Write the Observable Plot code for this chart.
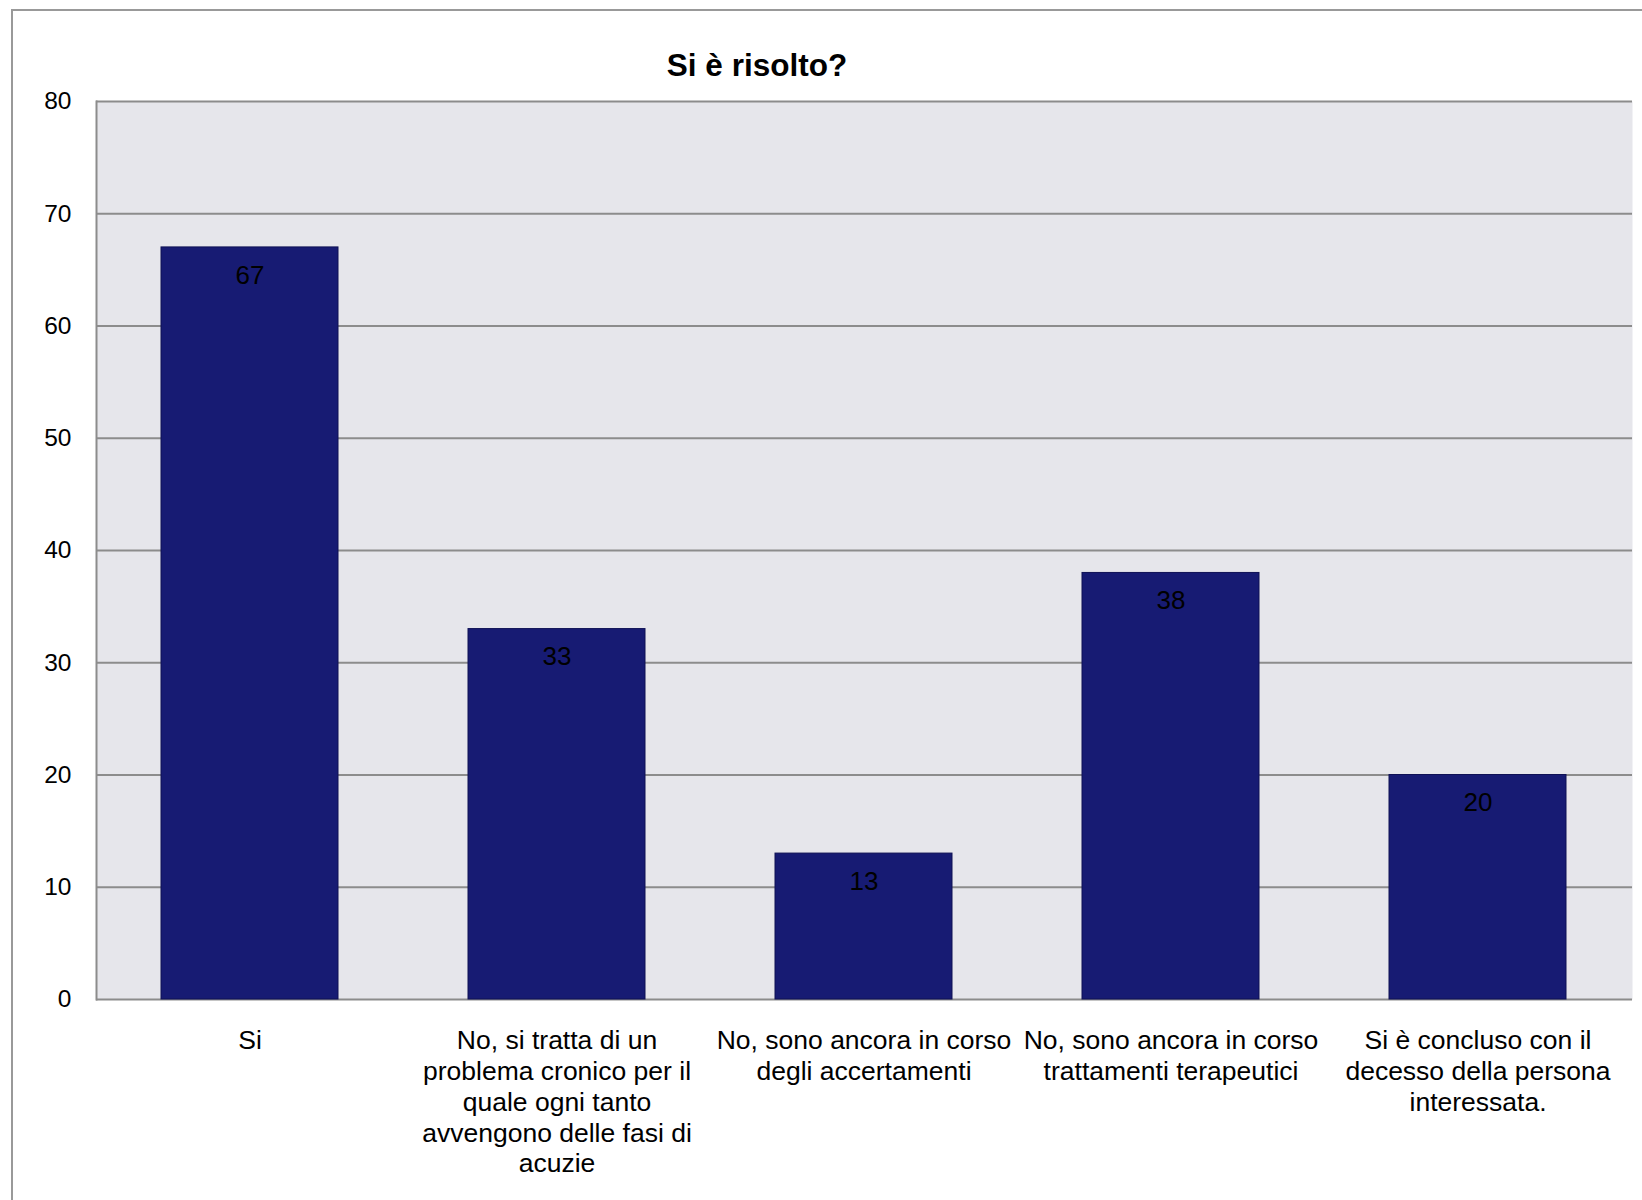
<!DOCTYPE html>
<html>
<head>
<meta charset="utf-8">
<script src="https://cdn.jsdelivr.net/npm/d3@7"></script>
<script src="https://cdn.jsdelivr.net/npm/@observablehq/plot@0.6"></script>
<style>
  html, body { margin: 0; padding: 0; background: #fff; }
  #wrap { position: relative; width: 1642px; height: 1200px; overflow: hidden; font-family: "Liberation Sans", Arial, sans-serif; }
  #frame { position: absolute; left: 11px; top: 9px; width: 1700px; height: 1300px; border-left: 2px solid #999; border-top: 2px solid #999; }
  #title { position: absolute; left: 557px; width: 400px; top: 45px; text-align: center; font-size: 31.5px; font-weight: bold; color: #000; line-height: 40px; }
  #chart { position: absolute; left: 0; top: 0; }
</style>
</head>
<body>
<div id="wrap">
  <div id="frame"></div>
  <div id="chart"></div>
  <div id="title">Si è risolto?</div>
</div>
<script>
const categories = [
  "Si",
  "No, si tratta di un\nproblema cronico per il\nquale ogni tanto\navvengono delle fasi di\nacuzie",
  "No, sono ancora in corso\ndegli accertamenti",
  "No, sono ancora in corso\ntrattamenti terapeutici",
  "Si è concluso con il\ndecesso della persona\ninteressata."
];
const values = [67, 33, 13, 38, 20];
const yTicks = [0, 10, 20, 30, 40, 50, 60, 70, 80];

const data = categories.map((c, i) => ({category: c, value: values[i]}));

const chart = Plot.plot({
  width: 1642,
  height: 1200,
  marginLeft: 96,
  marginRight: 10,
  marginTop: 101,
  marginBottom: 201,
  style: {fontFamily: "'Liberation Sans', Arial, sans-serif", fontSize: "24px", color: "#000", background: "transparent"},
  x: {domain: categories, paddingInner: 0.423, paddingOuter: 0.2115, label: null},
  y: {domain: [0, 80], label: null},
  marks: [
    Plot.frame({fill: "#e6e6eb", stroke: null}),
    Plot.ruleY(yTicks, {stroke: "#8c8c8c", strokeWidth: 2, strokeOpacity: 1}),
    Plot.frame({anchor: "left", stroke: "#8c8c8c", strokeWidth: 2, strokeOpacity: 1}),
    Plot.barY(data, {x: "category", y: "value", fill: "#171b73", stroke: "#0f1155", strokeWidth: 1}),
    Plot.text(data, {x: "category", y: "value", text: d => String(d.value), dy: 28, fill: "#000", fontSize: 26}),
    Plot.axisY(yTicks, {tickSize: 0, tickPadding: 25, fontSize: 24.5, fill: "#000", label: null}),
    Plot.axisX({tickSize: 0, tickPadding: 28, fontSize: 26.5, fill: "#000", lineHeight: 1.16, label: null, textOverflow: null})
  ]
});
document.getElementById("chart").appendChild(chart);
</script>
</body>
</html>
